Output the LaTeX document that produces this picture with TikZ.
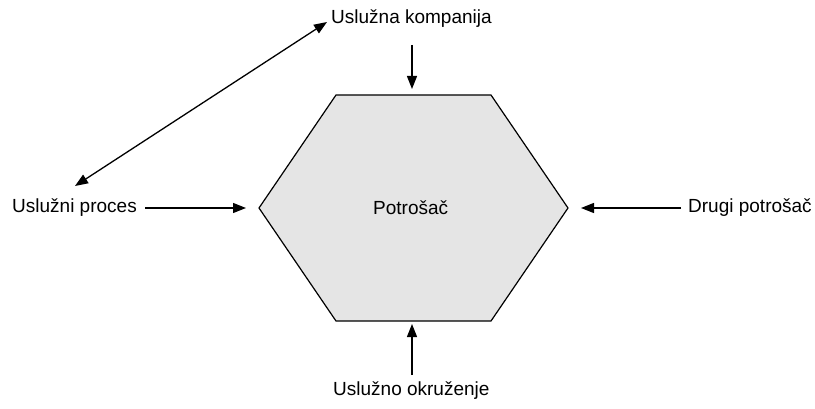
\documentclass[tikz,border=0pt]{standalone}
\usepackage{fontspec}
\setmainfont{Liberation Sans}
\usetikzlibrary{arrows.meta}
\begin{document}
\begin{tikzpicture}[x=1pt,y=-1pt,
  lbl/.style={font=\fontsize{19}{22}\selectfont, inner sep=0pt, anchor=west},
  arr/.style={line width=1.3pt, -{Triangle[length=13pt,width=10pt]}},
  darr/.style={line width=1.3pt, {Triangle[length=13pt,width=10pt]}-{Triangle[length=13pt,width=10pt]}}]
\useasboundingbox (0,0) rectangle (815,409);
\draw[line width=1.2pt, fill=black!10] (259,208) -- (336,95) -- (491,95) -- (568,208) -- (491,321) -- (336,321) -- cycle;
\node[lbl] (cons) at (373,208) {Potrošač};
\node[lbl] (comp) at (331,19) {Uslužna kompanija};
\node[lbl] (proc) at (12,208) {Uslužni proces};
\node[lbl] (other) at (688,208) {Drugi potrošač};
\node[lbl] (env) at (333,391) {Uslužno okruženje};
\coordinate (ctop) at (412,45);
\coordinate (htop) at (412,89);
\coordinate (cleft) at (145,208);
\coordinate (hleft) at (246,208);
\coordinate (cright) at (681,208);
\coordinate (hright) at (581,208);
\coordinate (cbot) at (412,375);
\coordinate (hbot) at (412,324);
\coordinate (d1) at (75,186);
\coordinate (d2) at (327,22);
\draw[arr] (ctop) -- (htop);
\draw[arr] (cleft) -- (hleft);
\draw[arr] (cright) -- (hright);
\draw[arr] (cbot) -- (hbot);
\draw[darr] (d1) -- (d2);
\end{tikzpicture}
\end{document}
